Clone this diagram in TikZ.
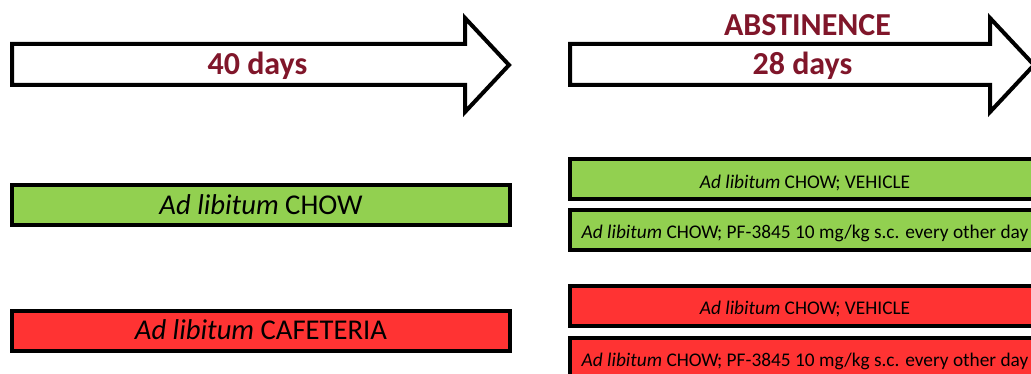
\documentclass[tikz,border=0pt]{standalone}
\usepackage{fontspec}
\setmainfont{Carlito}
\usepackage{tikz}
\usetikzlibrary{calc}
\usetikzlibrary{positioning}
\definecolor{chowgreen}{RGB}{146, 208, 80}
\definecolor{cafred}{RGB}{255, 51, 51}
\definecolor{phasered}{RGB}{128, 22, 42}

\tikzset{
  bar/.style={draw=black, line width=3pt, inner sep=0pt, minimum height=30pt, text=black, text height=13.8pt, text depth=0pt},
  dietbar/.style={bar, minimum width=373.5pt, font=\fontsize{21.5}{24}\selectfont},
  dosebar/.style={bar, minimum width=352.5pt, font=\fontsize{14.5}{17}\selectfont},
  phase/.style={text=phasered, inner sep=0pt, anchor=base, font=\fontsize{24}{28}\selectfont\bfseries},
  timeline/.style={draw=black, fill=white, line width=3pt, line join=miter},
}

\begin{document}
\begin{tikzpicture}[x=0.75pt, y=-0.75pt]
            \useasboundingbox (0,0) rectangle (1031,374);
            \clip (0,0) rectangle (1031,374);
            % time arrows
            \draw[timeline] ( 12,44) -- ( 465,44) -- ( 465,18) -- ( 509,65) -- ( 465,112) -- ( 465,85) -- ( 12,85) -- cycle;
            \draw[timeline] (570,44) -- ( 990,44) -- ( 990,18) -- (1034,65) -- ( 990,112) -- ( 990,85) -- (570,85) -- cycle;
            \node[phase] (training)   at (257.5,75) {40 days};
            \node[phase] (abstinence) at (807.5,36) {ABSTINENCE};
            \node[phase] (withdrawal) at (802.5,75) {28 days};
            % diets
            \node[dietbar, fill=chowgreen] (chow)      at (261,205.0) {\textit{Ad libitum} CHOW};
            \node[dietbar, fill=cafred]    (cafeteria) at (261,330.5) {\textit{Ad libitum} CAFETERIA};
            % treatments
            \node[dosebar, fill=chowgreen] (chowveh) at (805,179.0) {\textit{Ad libitum} CHOW; VEHICLE};
            \node[dosebar, fill=chowgreen] (chowpf)  at (805,229.5) {\textit{Ad libitum} CHOW; PF-3845 10 mg/kg s.c. every other day};
            \node[dosebar, fill=cafred]    (cafveh)  at (805,305.5) {\textit{Ad libitum} CHOW; VEHICLE};
            \node[dosebar, fill=cafred]    (cafpf)   at (805,357.5) {\textit{Ad libitum} CHOW; PF-3845 10 mg/kg s.c. every other day};
\end{tikzpicture}
\end{document}
